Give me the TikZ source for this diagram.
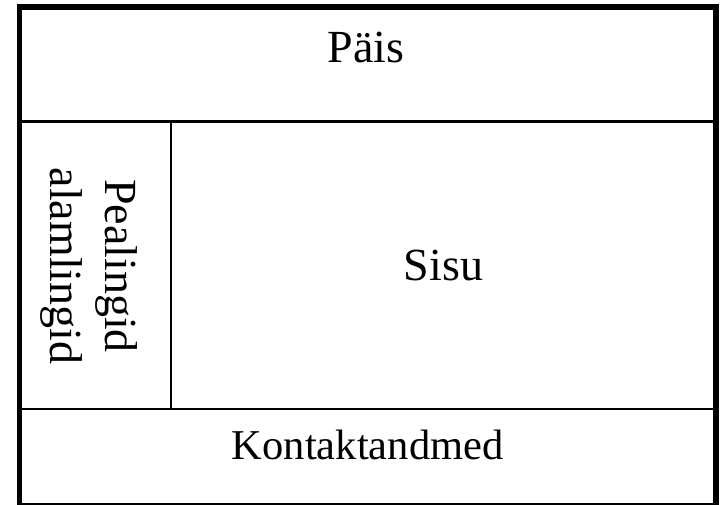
\documentclass[tikz,border=0pt]{standalone}
\usepackage{fontspec}
\setmainfont{Liberation Serif}
\begin{document}
\begin{tikzpicture}[x=1pt, y=1pt,
    frame/.style={line width=5.5pt},
    divider/.style={line width=2.5pt},
    bigtext/.style={font=\fontsize{46}{55}\selectfont},
    smalltext/.style={font=\fontsize{42.5}{50}\selectfont}]

\useasboundingbox (0, 0) rectangle (721, -505);

\coordinate (tl) at (19.5, -7);
\coordinate (br) at (716, -505.5);
\coordinate (hl) at (19.5, -121.5);
\coordinate (hr) at (716, -121.5);
\coordinate (fl) at (19.5, -409);
\coordinate (fr) at (716, -409);
\coordinate (dt) at (171, -121.5);
\coordinate (db) at (171, -409);

\draw[divider] (hl) -- (hr);
\draw[divider] (fl) -- (fr);
\draw[divider] (dt) -- (db);
\draw[frame] (tl) rectangle (br);

\node[bigtext, anchor=base] at (366, -62.7)   (header)  {Päis};
\node[bigtext, anchor=base] at (443.5, -281)  (content) {Sisu};
\node[bigtext, rotate=-90, align=center] at (89, -266) (menu) {Pealingid\\alamlingid};
\node[smalltext, anchor=base] at (367.7, -459.3) (footer) {Kontaktandmed};

\end{tikzpicture}
\end{document}
